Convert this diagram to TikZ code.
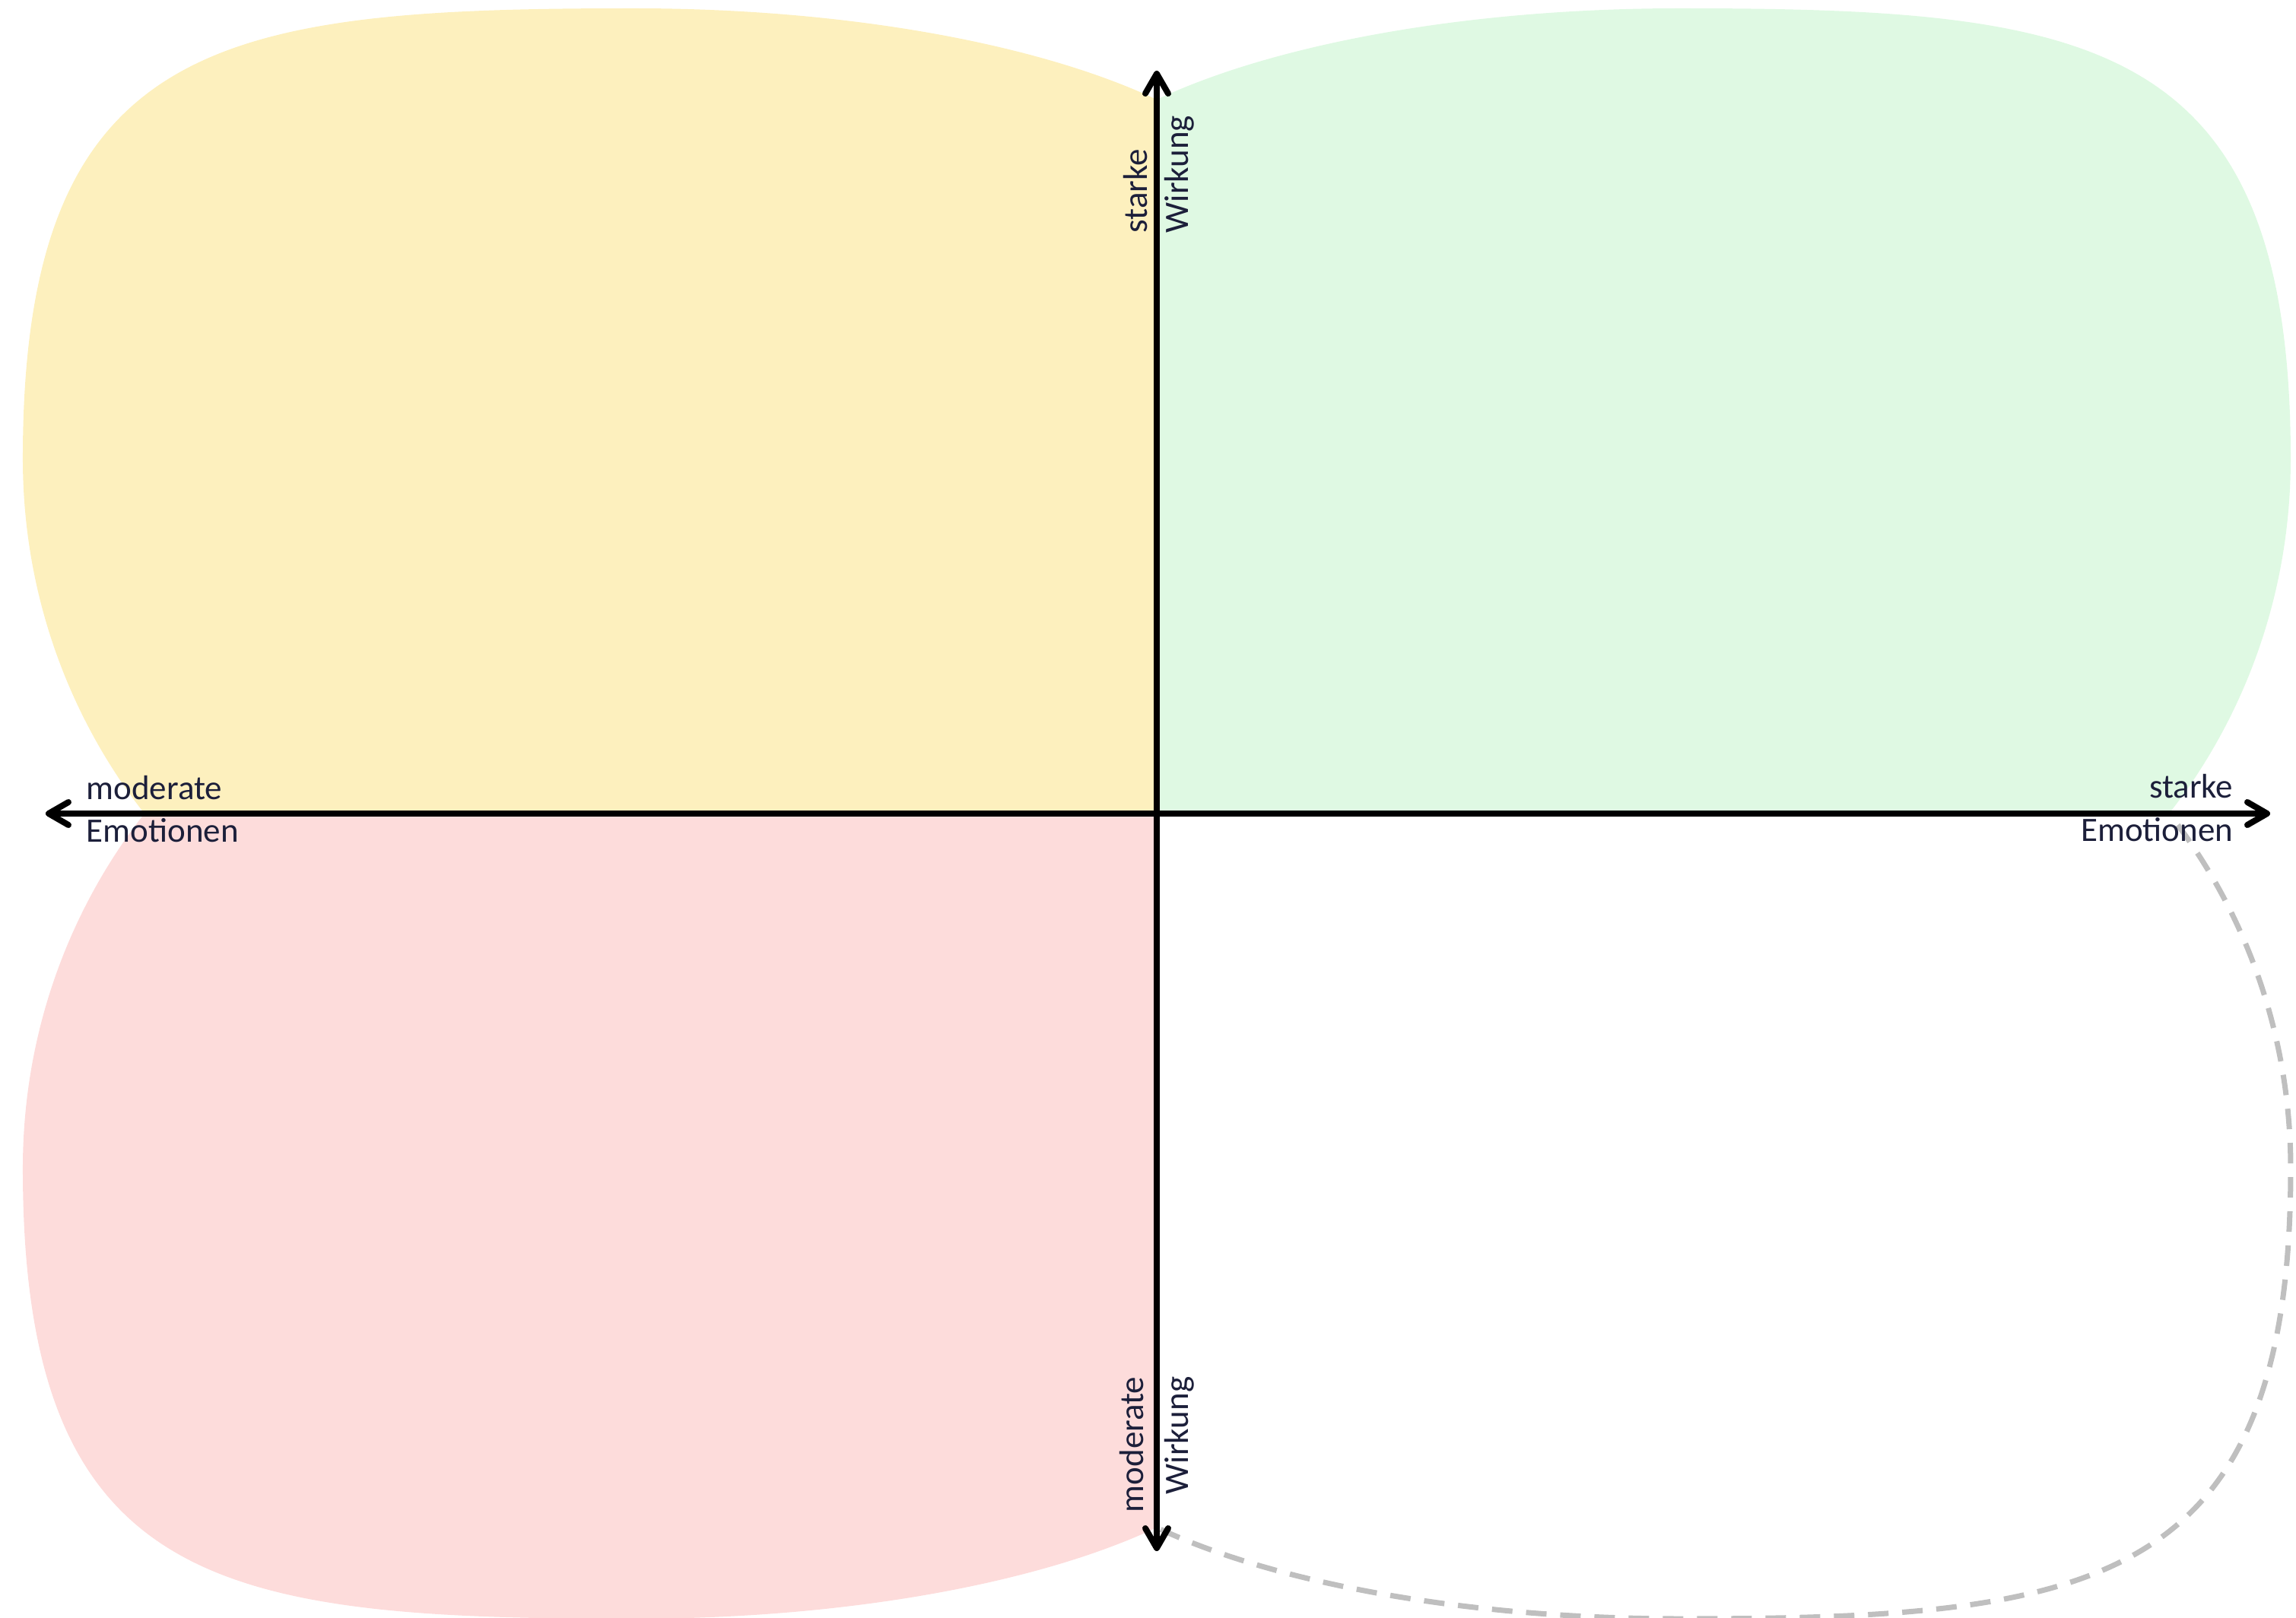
\documentclass[tikz,border=0pt]{standalone}
\usepackage{fontspec}
\setmainfont{Carlito}
\usetikzlibrary{arrows.meta}
\definecolor{Ink}{HTML}{1C1F3A}
\definecolor{Butter}{HTML}{FDF0BE}
\definecolor{Mint}{HTML}{DFF9E3}
\definecolor{Blush}{HTML}{FDDCDB}
\definecolor{Ash}{HTML}{BFBFBF}

\begin{document}
\begin{tikzpicture}[font=\fontsize{12.8}{15.9}\selectfont,
      yolk/.style={fill=Butter},
      leaf/.style={fill=Mint},
      rose/.style={fill=Blush},
      hollow/.style={draw=Ash,line width=0.7mm,line join=round,
                     dash pattern=on 2.7mm off 1.8mm},
      axis/.style={{Straight Barb[round,length=2.6mm,width=3mm]}-{Straight Barb[round,length=2.6mm,width=3mm]},
                   line width=0.8mm,black},
      caption/.style={inner sep=0pt,text=Ink}]
    \useasboundingbox (-15.21,-10.57) rectangle (14.98,10.70);

    \foreach \sx/\sy/\look in {-1/1/yolk,1/1/leaf,-1/-1/rose,1/-1/hollow}{%
      \path[\look,xscale=\sx,yscale=\sy] (0,0) -- (13.31,0)
        .. controls (14.1,1.0) and (14.91,2.6) .. (14.91,4.67)
        .. controls (14.91,10.2) and (12.3,10.59) .. (6.88,10.59)
        .. controls (4.0,10.59) and (1.5,10.1) .. (0,9.39) -- cycle;
    }

    \coordinate (west) at (-14.61,0);
    \coordinate (east) at (14.64,0);
    \coordinate (north) at (0,9.77);
    \coordinate (south) at (0,-9.70);
    \draw[axis] (west) -- (east);
    \draw[axis] (south) -- (north);

    \node[caption,anchor=base west] (emoLowA) at (-14.08,0.19) {moderate};
    \node[caption,anchor=base west] (emoLowB) at (-14.08,-0.37) {Emotionen};
    \node[caption,anchor=base east] (emoHighA) at (14.16,0.21) {starke};
    \node[caption,anchor=base east] (emoHighB) at (14.16,-0.36) {Emotionen};
    \node[caption,rotate=90,anchor=base west] (effHighA) at (-0.13,7.63) {starke};
    \node[caption,rotate=90,anchor=base west] (effHighB) at (0.42,7.63) {Wirkung};
    \node[caption,rotate=90,anchor=base east] (effLowA) at (-0.18,-7.40) {moderate};
    \node[caption,rotate=90,anchor=base east] (effLowB) at (0.41,-7.40) {Wirkung};
  \end{tikzpicture}
\end{document}
